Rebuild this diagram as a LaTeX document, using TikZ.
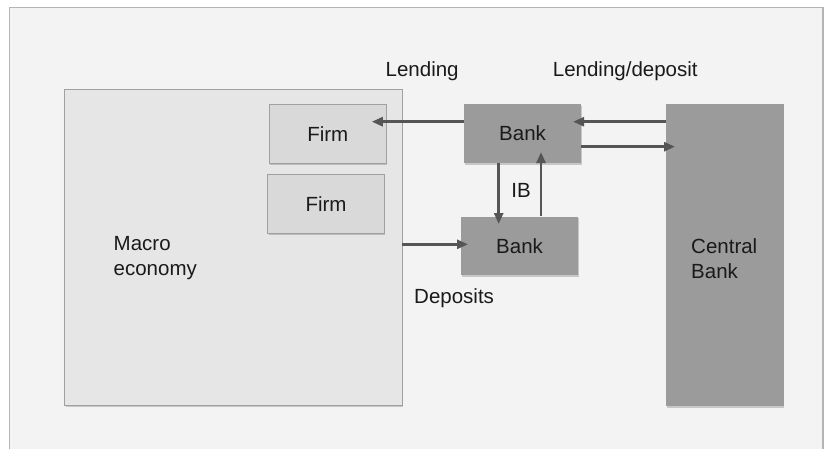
\documentclass[tikz,border=0pt]{standalone}
\usepackage{fontspec}
\setmainfont{Liberation Sans}
\usetikzlibrary{arrows.meta,shadows}
\definecolor{framefill}{HTML}{F3F3F3}
\definecolor{framedraw}{HTML}{B4B4B4}
\definecolor{macrofill}{HTML}{E6E6E6}
\definecolor{firmfill}{HTML}{D9D9D9}
\definecolor{boxdraw}{HTML}{A0A0A0}
\definecolor{bankfill}{HTML}{9B9B9B}
\definecolor{arrowcol}{HTML}{555555}
\definecolor{txt}{HTML}{1A1A1A}
\tikzset{
  shad/.style={drop shadow={shadow xshift=0.8pt,shadow yshift=-1.6pt,fill=black,opacity=0.18}},
  box/.style={rectangle,inner sep=0pt,anchor=north west,shad,text=txt,font=\fontsize{20.5}{24}\selectfont},
  firmbox/.style={box,fill=firmfill,draw=boxdraw,line width=1pt,minimum width=116.5pt,minimum height=58.4pt},
  bankbox/.style={box,fill=bankfill,minimum width=116.7pt,minimum height=58.7pt},
  lbl/.style={inner sep=0pt,text=txt,font=\fontsize{20.5}{25}\selectfont,align=left},
  arr/.style={draw=arrowcol,line width=2.6pt,-{Triangle[length=11pt,width=9pt]}}
}
\begin{document}
\begin{tikzpicture}[x=1pt,y=-1pt]
\useasboundingbox (0,0) rectangle (825,448);
\fill[white] (0,0) rectangle (825,448);
\path[fill=framefill,draw=framedraw,line width=1.3pt] (9.3,460) -- (9.3,7.3) -- (823,7.3) -- (823,460);
% boxes
\node[box,fill=macrofill,draw=boxdraw,line width=1pt,minimum width=337.7pt,minimum height=315.7pt] (macro) at (64.2,89.3) {};
\node[firmbox] (firm1) at (269,104.3) {Firm};
\node[firmbox] (firm2) at (267.3,174.3) {Firm};
\node[bankbox] (bank1) at (464,104) {Bank};
\node[bankbox] (bank2) at (461,216.3) {Bank};
\node[box,fill=bankfill,minimum width=117.6pt,minimum height=302pt] (cb) at (665.7,104) {};
% labels
\node[lbl,anchor=west] (macrotxt) at (113.5,258.5) {Macro\\economy};
\node[lbl,anchor=west] (cbtxt) at (691,258.5) {Central\\Bank};
\node[lbl,anchor=west] (lend) at (385.5,71) {Lending};
\node[lbl,anchor=west] (lenddep) at (552.7,71) {Lending/deposit};
\node[lbl] (ib) at (521,190) {IB};
\node[lbl,anchor=west] (dep) at (414,298) {Deposits};
% arrow coordinates
\coordinate (ya) at (0,121.7);
\coordinate (yb) at (0,146.7);
\coordinate (yc) at (0,244.3);
\coordinate (xa) at (498.7,0);
\coordinate (xb) at (541,0);
% arrows
\draw[arr,shorten >=-14.7pt] (bank1.west |- ya) -- (firm1.east |- ya);
\draw[arr,shorten >=-8pt] (cb.west |- ya) -- (bank1.east |- ya);
\draw[arr,shorten >=-9.3pt] (bank1.east |- yb) -- (cb.west |- yb);
\draw[arr,shorten >=-7.7pt] (bank1.south -| xa) -- (bank2.north -| xa);
\draw[arr,shorten >=-11pt] (bank2.north -| xb) -- (bank1.south -| xb);
\draw[arr,shorten <=-0.8pt,shorten >=-7pt] (macro.east |- yc) -- (bank2.west |- yc);
\end{tikzpicture}
\end{document}
